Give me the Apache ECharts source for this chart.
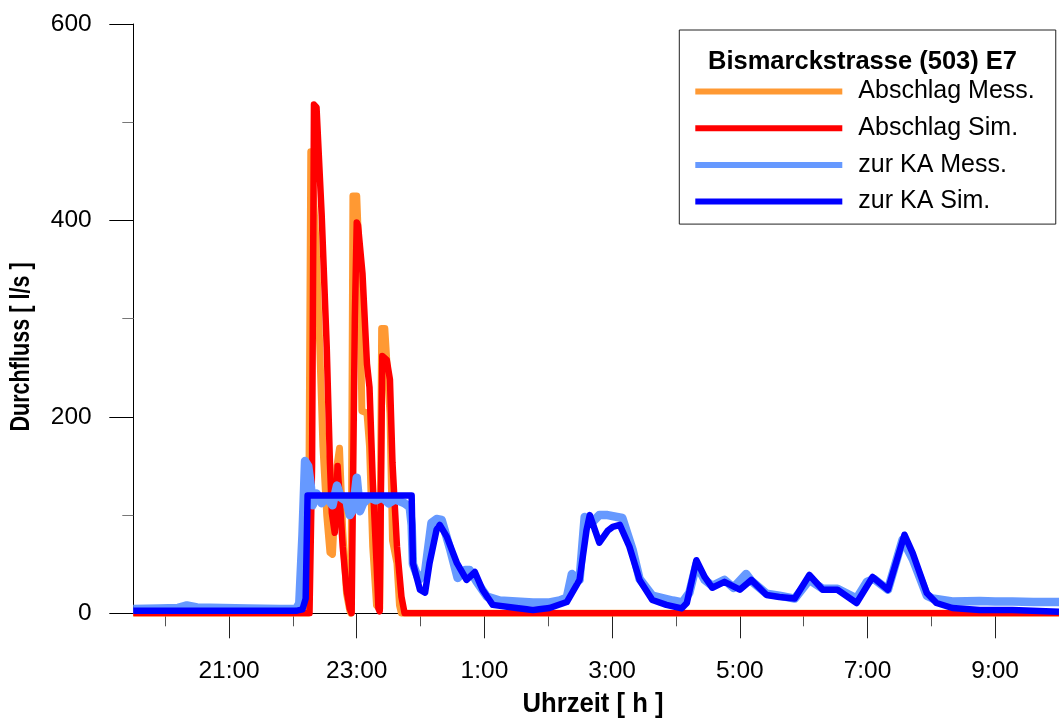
<!DOCTYPE html>
<html>
<head>
<meta charset="utf-8">
<script src="https://cdn.jsdelivr.net/npm/echarts@6/dist/echarts.min.js"></script>
<style>
  html, body { margin: 0; padding: 0; background: #fff; }
  #c { width: 1059px; height: 722px; }
</style>
</head>
<body>
<div id="c"></div>
<script>
/* Durchfluss Bismarckstrasse – Zeit in Stunden ab Mitternacht Tag 1 (24 = 0:00) */
const FONT = "'Liberation Sans', Arial, sans-serif";

const labelHours = [21, 23, 25, 27, 29, 31, 33];
const minorHours = [20, 22, 24, 26, 28, 30, 32];

// Abschlag Mess. [h, l/s]
const abschlagMess = [
  [19.5, 0], [22.24, 0], [22.28, 470], [22.31, 472], [22.36, 380], [22.42, 272], [22.47, 170],
  [22.53, 100], [22.58, 62], [22.62, 60], [22.69, 150], [22.73, 168], [22.78, 85], [22.84, 20],
  [22.89, 3], [22.91, 0], [22.94, 425], [23.0, 425], [23.05, 340], [23.08, 206], [23.16, 204],
  [23.2, 170], [23.25, 68], [23.31, 8], [23.36, 5], [23.39, 290], [23.44, 290], [23.52, 204],
  [23.56, 74], [23.63, 51], [23.67, 8], [23.7, 0], [34, 0]
];

// Abschlag Sim.
const abschlagSim = [
  [19.5, 0], [22.26, 0], [22.3, 150], [22.33, 518], [22.37, 515], [22.45, 407], [22.53, 271],
  [22.58, 153], [22.61, 102], [22.655, 82], [22.7, 150], [22.73, 120], [22.78, 68], [22.84, 24],
  [22.89, 5], [22.92, 0], [22.97, 300], [23.0, 398], [23.02, 395], [23.09, 346], [23.16, 254],
  [23.2, 230], [23.25, 136], [23.31, 51], [23.34, 5], [23.36, 2], [23.4, 262], [23.47, 258],
  [23.52, 238], [23.56, 153], [23.63, 68], [23.7, 17], [23.75, 0], [34, 0]
];

// zur KA Mess.
const kaMess = [
  [19.5, 4.5], [19.9, 5], [20.2, 5.5], [20.34, 8], [20.5, 6], [20.9, 5.5], [21.3, 5], [21.8, 4.5],
  [22.05, 4.5], [22.1, 10], [22.15, 80], [22.19, 155], [22.24, 150], [22.28, 130], [22.31, 110],
  [22.37, 122], [22.45, 112], [22.53, 118], [22.62, 110], [22.69, 130], [22.75, 118], [22.84, 114],
  [22.89, 100], [22.94, 105], [23.0, 138], [23.05, 104], [23.1, 112], [23.2, 118], [23.3, 115],
  [23.4, 118], [23.5, 112], [23.6, 116], [23.75, 112], [23.83, 108], [23.86, 90], [23.88, 50],
  [23.95, 38], [23.99, 35], [24.07, 42], [24.17, 92], [24.25, 96], [24.33, 95], [24.46, 66],
  [24.58, 36], [24.7, 44], [24.77, 44], [24.88, 32], [25.04, 17], [25.24, 13], [25.5, 12],
  [25.76, 11], [26.02, 11], [26.18, 13], [26.29, 16], [26.37, 40], [26.49, 34], [26.57, 98],
  [26.68, 92], [26.8, 100], [26.93, 100], [27.16, 97], [27.32, 65], [27.43, 35], [27.63, 18],
  [27.95, 13], [28.1, 11], [28.21, 21], [28.32, 50], [28.45, 34], [28.57, 28], [28.76, 34],
  [28.9, 26], [29.1, 40], [29.18, 33], [29.42, 20], [29.62, 18], [29.86, 15], [30.09, 34],
  [30.3, 25], [30.53, 25], [30.83, 15], [30.99, 32], [31.1, 35], [31.32, 24], [31.55, 75],
  [31.71, 55], [31.93, 18], [32.02, 15], [32.33, 12], [32.76, 12.5], [33.0, 12], [33.27, 12],
  [33.6, 11.5], [34.0, 11.5]
];

// zur KA Sim.
const kaSim = [
  [19.5, 2.5], [20.5, 2.5], [21.5, 2.5], [22.05, 2.5], [22.15, 4], [22.2, 15], [22.23, 120],
  [23.86, 120], [23.88, 51], [23.99, 24], [24.07, 21], [24.14, 51], [24.25, 85], [24.3, 90],
  [24.41, 78], [24.57, 51], [24.72, 34], [24.85, 42], [24.97, 24], [25.13, 8.6], [25.5, 5.4],
  [25.76, 3.4], [26.02, 5.4], [26.29, 11.5], [26.49, 34], [26.6, 85], [26.65, 100], [26.8, 72],
  [26.93, 84], [27.01, 88], [27.12, 90], [27.27, 68], [27.43, 34], [27.63, 13.5], [27.85, 8.6],
  [28.09, 5], [28.17, 10.5], [28.32, 54], [28.45, 37], [28.57, 26], [28.76, 32], [29.0, 24],
  [29.18, 34], [29.42, 18.6], [29.62, 16.6], [29.86, 15], [30.09, 39], [30.3, 24], [30.53, 24],
  [30.83, 10.5], [31.08, 37], [31.32, 24], [31.58, 80], [31.71, 61], [31.93, 20.6], [32.08, 10.5],
  [32.33, 5.4], [32.76, 3.4], [33.27, 3.4], [34.0, 1.5]
];

const names = ['Abschlag Mess.', 'Abschlag Sim.', 'zur KA Mess.', 'zur KA Sim.'];
const colors = ['#FF9933', '#FF0000', '#6699FF', '#0000FF'];
const widths = [7, 6.5, 8.5, 6.5];
const datasets = [abschlagMess, abschlagSim, kaMess, kaSim];

const chart = echarts.init(document.getElementById('c'), null, { renderer: 'canvas' });
const xBase = { type: 'value', min: 19.5, max: 34, position: 'bottom', splitLine: { show: false } };
const titleStyle = { fontFamily: FONT, fontSize: 27, fontWeight: 'bold', fill: '#000', align: 'center', verticalAlign: 'middle' };

chart.setOption({
  animation: false,
  textStyle: { fontFamily: FONT },
  grid: { left: 133.3, top: 24, right: 0, bottom: 108.7 },
  title: {
    text: 'Bismarckstrasse (503) E7', left: 703, top: 44, padding: 5,
    textStyle: { fontFamily: FONT, fontSize: 25.5, fontWeight: 'bold', color: '#000' },
  },
  legend: {
    orient: 'vertical', left: 679.3, top: 30, align: 'left',
    padding: [49, 21, 10, 16], itemGap: 11.7, itemWidth: 147, itemHeight: 6,
    borderColor: '#222', borderWidth: 1, icon: 'rect',
    textStyle: { fontFamily: FONT, fontSize: 25, lineHeight: 25, color: '#000', padding: [0, 0, 0, 11] },
    data: names,
  },
  xAxis: [
    Object.assign({}, xBase, {
      axisLine: { lineStyle: { color: '#000', width: 1 } },
      axisTick: { length: 25, customValues: labelHours, lineStyle: { color: '#222' } },
      axisLabel: { customValues: labelHours, margin: 45, fontSize: 24.5, color: '#000', fontFamily: FONT,
        formatter: v => (v % 24) + ':00' },
    }),
    Object.assign({}, xBase, {
      axisLine: { show: false },
      axisTick: { length: 13, customValues: minorHours, lineStyle: { color: '#555' } },
      axisLabel: { show: false },
    }),
  ],
  yAxis: {
    type: 'value', min: 0, max: 600, interval: 200,
    splitLine: { show: false },
    axisLine: { show: true, lineStyle: { color: '#000', width: 1 } },
    axisTick: { show: true, length: 24, lineStyle: { color: '#000' } },
    minorTick: { show: true, splitNumber: 2, length: 11, lineStyle: { color: '#777' } },
    axisLabel: { margin: 41.6, fontSize: 24.5, color: '#000', fontFamily: FONT },
  },
  graphic: [
    { type: 'text', x: 593, y: 705, scaleX: 0.95, style: Object.assign({ text: 'Uhrzeit [ h ]' }, titleStyle) },
    { type: 'text', x: 22, y: 347, rotation: Math.PI / 2, scaleX: 0.8,
      style: Object.assign({ text: 'Durchfluss [ l/s ]' }, titleStyle) },
  ],
  series: datasets.map((d, i) => ({
    name: names[i], type: 'line', xAxisIndex: 0, data: d, symbol: 'none',
    color: colors[i],
    lineStyle: { color: colors[i], width: widths[i], join: 'round', cap: 'butt' },
  })),
});
</script>
</body>
</html>
